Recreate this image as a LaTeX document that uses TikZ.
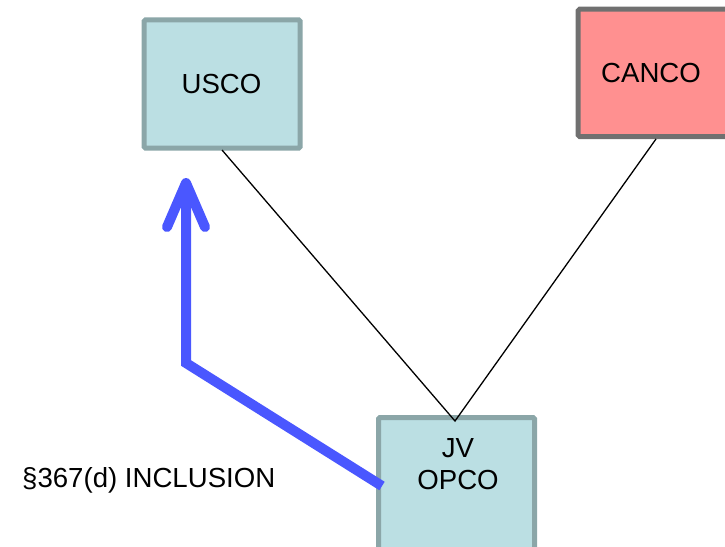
\documentclass[tikz,border=0pt]{standalone}
\usepackage{fontspec}
\setmainfont{Liberation Sans}
\usetikzlibrary{arrows.meta}
\definecolor{coFill}{HTML}{BBDFE3}
\definecolor{coEdge}{HTML}{8BA6A8}
\definecolor{caFill}{HTML}{FF9090}
\definecolor{caEdge}{HTML}{707070}
\definecolor{incBlue}{HTML}{4A57FF}
\tikzset{
  entity/.style={draw=coEdge, fill=coFill, line width=5pt, rounded corners=1.5pt},
  foreign/.style={draw=caEdge, fill=caFill, line width=5pt, rounded corners=1.5pt},
  label/.style={font=\fontsize{27.6}{32}\selectfont, inner sep=0pt, align=center},
  owns/.style={draw=black, line width=1.3pt},
  inclusion/.style={draw=incBlue, line width=10pt, line join=miter,
    -{Straight Barb[length=44pt, width=38pt, round]}}
}
\begin{document}
\begin{tikzpicture}[x=1pt, y=-1pt]
\useasboundingbox (0,0) rectangle (725,546);
\clip (0,0) rectangle (725,546);
% entity boxes
\draw[entity] (144.2,19.8) rectangle (300.2,148.2);
\draw[foreign] (578.2,9.2) rectangle (730,136.5);
\draw[entity] (378.5,417.5) rectangle (534.5,570);
\node[label] (usco) at (221.5,84) {USCO};
\node[label] (canco) at (651,73) {CANCO};
\node[label] (jv) at (458,464) {JV\\OPCO};
\node[label, anchor=west] (incl) at (22,480) {§367(d) INCLUSION};
% anchor points on the box edges
\coordinate (uscoS) at (222,150);
\coordinate (cancoS) at (656,139);
\coordinate (apex) at (455,421);
\coordinate (jvW) at (382,486);
\coordinate (bend) at (186,363);
\coordinate (uscoT) at (186,178);
% ownership lines
\draw[owns] (uscoS) -- (apex) -- (cancoS);
% inclusion arrow
\draw[inclusion] (jvW) -- (bend) -- (uscoT);
\end{tikzpicture}
\end{document}
